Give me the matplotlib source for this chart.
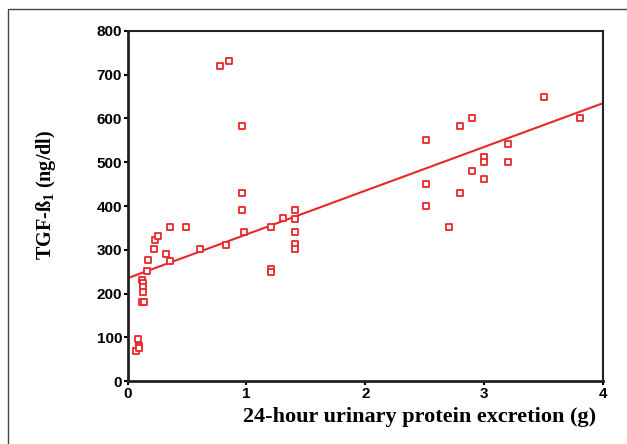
import matplotlib
matplotlib.use("Agg")
import matplotlib.pyplot as plt
import numpy as np
from matplotlib.patches import Rectangle

# 24-hour urinary protein (g) vs TGF-beta1 (ng/dl)
protein = [0.07, 0.09, 0.098, 0.1, 0.12, 0.13, 0.13, 0.13, 0.12, 0.14,
           0.165, 0.17, 0.22, 0.23, 0.256, 0.32, 0.36, 0.36, 0.495, 0.605,
           0.78, 0.855, 0.83, 0.96, 0.96, 0.96, 0.98,
           1.21, 1.21, 1.21, 1.305, 1.406, 1.406, 1.406, 1.406, 1.406,
           2.51, 2.51, 2.51, 2.705, 2.8, 2.8, 2.9, 2.9, 3.0, 3.0, 3.0,
           3.2, 3.2, 3.5, 3.81]
tgf = [68, 95, 80, 75, 232, 225, 215, 203, 181, 181,
       251, 277, 301, 322, 332, 290, 351, 275, 351, 301,
       721, 731, 311, 582, 430, 390, 340,
       351, 256, 250, 373, 390, 370, 340, 313, 301,
       551, 451, 401, 351, 582, 430, 602, 481, 513, 500, 462,
       541, 501, 649, 602]

# regression line as shown in the figure
fit_intercept = 235
fit_slope = 100

xticks = [0, 1, 2, 3, 4]
yticks = [0, 100, 200, 300, 400, 500, 600, 700, 800]

red = "#e8262a"

fig = plt.figure(figsize=(6.27, 4.44), dpi=100)
ax = fig.add_axes([127.6/627, 1-381/444, 475.4/627, 350/444])

ax.scatter(protein, tgf, marker="s", s=18, facecolors="white",
           edgecolors=red, linewidths=1.3, zorder=3, clip_on=False)

xl = np.array(xticks[::len(xticks)-1], dtype=float)
ax.plot(xl, fit_intercept + fit_slope*xl, color=red, lw=1.5, zorder=2)

ax.set_xlim(0, 4)
ax.set_ylim(0, 800)
ax.set_xticks(xticks)
ax.set_yticks(yticks)
for sp in ax.spines.values():
    sp.set_linewidth(1.5)
    sp.set_color("#222222")
ax.spines["left"].set_linewidth(2)
ax.spines["bottom"].set_linewidth(2)
ax.tick_params(length=3, width=1.5, direction="out", pad=1)
for lab in ax.get_xticklabels() + ax.get_yticklabels():
    lab.set_fontfamily("Liberation Sans")
    lab.set_fontweight("bold")
    lab.set_fontsize(11)

fig.text(420/627, 1-417/444, "24-hour urinary protein excretion (g)",
         family="Liberation Serif", weight="bold", fontsize=16,
         ha="center", va="center")
fig.text(46/627, 1-195/444, r"TGF-ß$_\mathregular{1}$ (ng/dl)",
         family="Liberation Serif", weight="bold", fontsize=14.5,
         ha="center", va="center", rotation=90)

# outer frame of the picture
fig.patches.append(Rectangle((7.5/627, -0.1), 1.2, 1-9.5/444+0.1,
                             transform=fig.transFigure, fill=False,
                             edgecolor="#444444", lw=1))

fig.savefig("out.png", dpi=100, facecolor="white")
